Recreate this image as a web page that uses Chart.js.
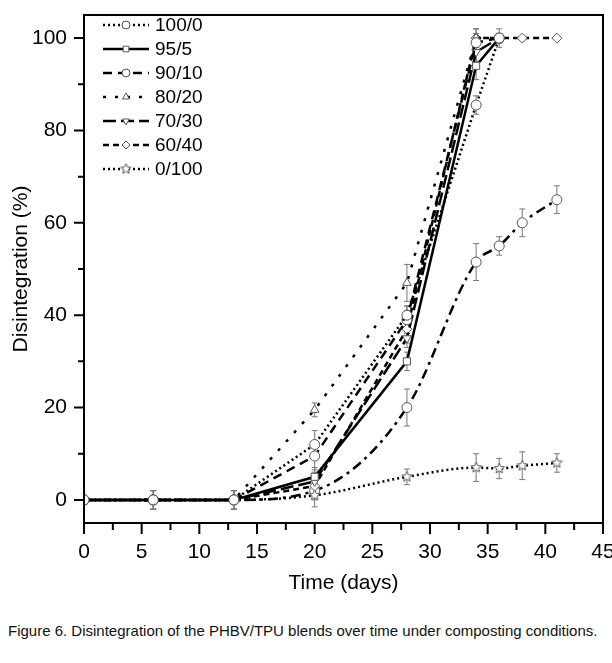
<!DOCTYPE html>
<html>
<head>
<meta charset="utf-8">
<script src="https://cdn.jsdelivr.net/npm/chart.js@4.4.1/dist/chart.umd.min.js"></script>
<style>
    body { margin: 0; background: #fff; width: 612px; height: 663px; position: relative; overflow: hidden; font-family: "Liberation Sans", Arial, sans-serif; }
    #wrap { position: absolute; left: 0; top: 0; width: 612px; height: 600px; }
    .caption { position: absolute; left: 8px; top: 622px; font-size: 15px; color: #111; white-space: nowrap; }
</style>
</head>
<body>
<div id="wrap"><canvas id="chart" width="612" height="600"></canvas></div>
<div class="caption">Figure 6. Disintegration of the PHBV/TPU blends over time under composting conditions.</div>
<script>
/* ---------- data ---------- */
const DAYS = [0, 6, 13, 20, 28, 34, 36, 38, 41];
const X_TICKS = [0, 5, 10, 15, 20, 25, 30, 35, 40, 45];
const Y_TICKS = [0, 20, 40, 60, 80, 100];

const V_100_0 = [0, 0, 0, 12, 40, 85.5, 100];
const V_95_5  = [0, 0, 0, 5, 30, 94, 100];
const V_90_10 = [0, 0, 0, 9.5, 39, 99, 100];
const V_80_20 = [0, 0, 0, 19.5, 47, 100, 100];
const V_70_30 = [0, 0, 0, 4, 35, 97, 100];
const V_60_40 = [0, 0, 0, 3, 37, 100, 100, 100, 100];
const V_0_100 = [0, 0, 0, 1, 5, 7, 6.8, 7.4, 8];
const V_OTHER = [0, 0, 0, 2, 20, 51.5, 55, 60, 65];

const E_100_0 = [0, 0, 0, 3, 2, 2, 1];
const E_95_5  = [0, 2, 2, 2, 2, 3, 1];
const E_90_10 = [0, 0, 0, 3, 3, 2, 1];
const E_80_20 = [0, 0, 0, 1.5, 4, 2, 1];
const E_70_30 = [0, 0, 0, 2, 2, 2, 1];
const E_60_40 = [0, 0, 0, 2, 3, 2, 2, 0, 0];
const E_0_100 = [0, 2, 2, 2.5, 1.7, 3, 2.2, 3, 2];
const E_OTHER = [0, 2, 2, 2, 4, 4, 2, 3, 3];

/* ---------- helpers ---------- */
const FONT = '"Liberation Sans", Arial, sans-serif';

function pts(values) {
    return values.map((v, i) => ({ x: DAYS[i], y: v }));
}

// open five-point star marker
function makeStar(size) {
    const c = document.createElement('canvas');
    c.width = size; c.height = size;
    const g = c.getContext('2d');
    const cx = size / 2, cy = size / 2, ro = size / 2 - 1, ri = ro * 0.45;
    g.beginPath();
    for (let k = 0; k < 10; k++) {
        const r = k % 2 ? ri : ro;
        const a = -Math.PI / 2 + k * Math.PI / 5;
        g.lineTo(cx + r * Math.cos(a), cy + r * Math.sin(a));
    }
    g.closePath();
    g.fillStyle = '#fff'; g.fill();
    g.strokeStyle = '#555'; g.lineWidth = 1; g.stroke();
    return c;
}
const STAR = makeStar(13);

function series(label, values, errors, dash, style, extra) {
    return Object.assign({
        label: label,
        data: pts(values),
        errors: errors,
        borderColor: '#000',
        borderWidth: 2.5,
        borderDash: dash,
        borderCapStyle: 'butt',
        pointStyle: style,
        pointRadius: 5,
        pointHoverRadius: 5,
        pointBackgroundColor: '#fff',
        pointBorderColor: '#555',
        pointBorderWidth: 1,
        tension: 0
    }, extra || {});
}

const datasets = [
    series('100/0', V_100_0, E_100_0, [2, 3], 'circle'),
    series('95/5', V_95_5, E_95_5, [], 'rect'),
    series('90/10', V_90_10, E_90_10, [9, 6], 'circle'),
    series('80/20', V_80_20, E_80_20, [3, 9], 'triangle'),
    series('70/30', V_70_30, E_70_30, [13, 5], 'triangle', { pointRotation: 180 }),
    series('60/40', V_60_40, E_60_40, [6, 4], 'rectRot'),
    series('0/100', V_0_100, E_0_100, [2, 3], STAR, { cubicInterpolationMode: 'monotone' }),
    series('', V_OTHER, E_OTHER, [10, 5, 3, 5], 'circle', { cubicInterpolationMode: 'monotone' })
];

/* ---------- plugins ---------- */
const errorBars = {
    id: 'errorBars',
    beforeDatasetsDraw(chart) {
        const { ctx, scales: { x, y } } = chart;
        ctx.save();
        ctx.strokeStyle = '#777';
        ctx.lineWidth = 1;
        chart.data.datasets.forEach(ds => {
            ds.data.forEach((p, i) => {
                const e = ds.errors[i];
                if (!e) return;
                const px = x.getPixelForValue(p.x);
                const y1 = y.getPixelForValue(p.y - e);
                const y2 = y.getPixelForValue(p.y + e);
                ctx.beginPath();
                ctx.moveTo(px, y1); ctx.lineTo(px, y2);
                ctx.moveTo(px - 3, y1); ctx.lineTo(px + 3, y1);
                ctx.moveTo(px - 3, y2); ctx.lineTo(px + 3, y2);
                ctx.stroke();
            });
        });
        ctx.restore();
    }
};

const frameAndTicks = {
    id: 'frameAndTicks',
    afterDraw(chart) {
        const { ctx, chartArea: a, scales: { x, y } } = chart;
        ctx.save();
        ctx.strokeStyle = '#000';
        ctx.lineWidth = 2;
        ctx.strokeRect(a.left, a.top, a.right - a.left, a.bottom - a.top);
        ctx.beginPath();
        for (let v = 0; v <= 45; v += 2.5) {
            const px = x.getPixelForValue(v);
            const len = v % 5 === 0 ? 11 : 7;
            ctx.moveTo(px, a.bottom); ctx.lineTo(px, a.bottom + len);
        }
        for (let v = 0; v <= 100; v += 10) {
            const py = y.getPixelForValue(v);
            const len = v % 20 === 0 ? 10 : 6;
            ctx.moveTo(a.left, py); ctx.lineTo(a.left - len, py);
        }
        ctx.stroke();
        ctx.restore();
    }
};

const innerLegend = {
    id: 'innerLegend',
    afterDraw(chart) {
        const ctx = chart.ctx;
        ctx.save();
        chart.data.datasets.forEach((ds, i) => {
            if (!ds.label) return;
            const yy = 25 + i * 24;
            ctx.strokeStyle = '#000';
            ctx.lineWidth = ds.borderWidth;
            ctx.setLineDash(ds.borderDash);
            ctx.beginPath();
            ctx.moveTo(103, yy); ctx.lineTo(149, yy);
            ctx.stroke();
            ctx.setLineDash([]);
            ctx.fillStyle = '#fff';
            ctx.strokeStyle = '#555';
            ctx.lineWidth = 1;
            Chart.helpers.drawPoint(ctx, {
                pointStyle: ds.pointStyle,
                rotation: ds.pointRotation || 0,
                radius: 4,
                borderWidth: 1
            }, 126, yy);
            ctx.fillStyle = '#000';
            ctx.font = '19px ' + FONT;
            ctx.textBaseline = 'middle';
            ctx.fillText(ds.label, 155, yy + 1);
        });
        ctx.restore();
    }
};

/* ---------- chart ---------- */
const tickFont = { family: FONT, size: 21 };

new Chart(document.getElementById('chart'), {
    type: 'line',
    data: { datasets: datasets },
    options: {
        responsive: false,
        animation: false,
        layout: { padding: { top: 15, right: 9, left: 0, bottom: 0 } },
        plugins: {
            legend: { display: false },
            tooltip: { enabled: false }
        },
        scales: {
            x: {
                type: 'linear',
                min: 0,
                max: 45,
                afterBuildTicks: s => { s.ticks = X_TICKS.map(v => ({ value: v })); },
                afterFit: s => { s.height = 77; s.paddingLeft = 0; s.paddingRight = 0; },
                grid: { display: false, drawTicks: false },
                border: { display: false },
                ticks: { padding: 17, font: tickFont, color: '#000', maxRotation: 0, autoSkip: false },
                title: { display: true, text: 'Time (days)', font: tickFont, color: '#000', padding: { top: 4, bottom: 4 } }
            },
            y: {
                min: -5,
                max: 105,
                afterBuildTicks: s => { s.ticks = Y_TICKS.map(v => ({ value: v })); },
                afterFit: s => { s.width = 84; s.paddingTop = 0; s.paddingBottom = 0; },
                grid: { display: false, drawTicks: false },
                border: { display: false },
                ticks: { padding: 17, font: tickFont, color: '#000' },
                title: { display: true, text: 'Disintegration (%)', font: tickFont, color: '#000', padding: { top: 9, bottom: 4 } }
            }
        }
    },
    plugins: [errorBars, frameAndTicks, innerLegend]
});
</script>
</body>
</html>
